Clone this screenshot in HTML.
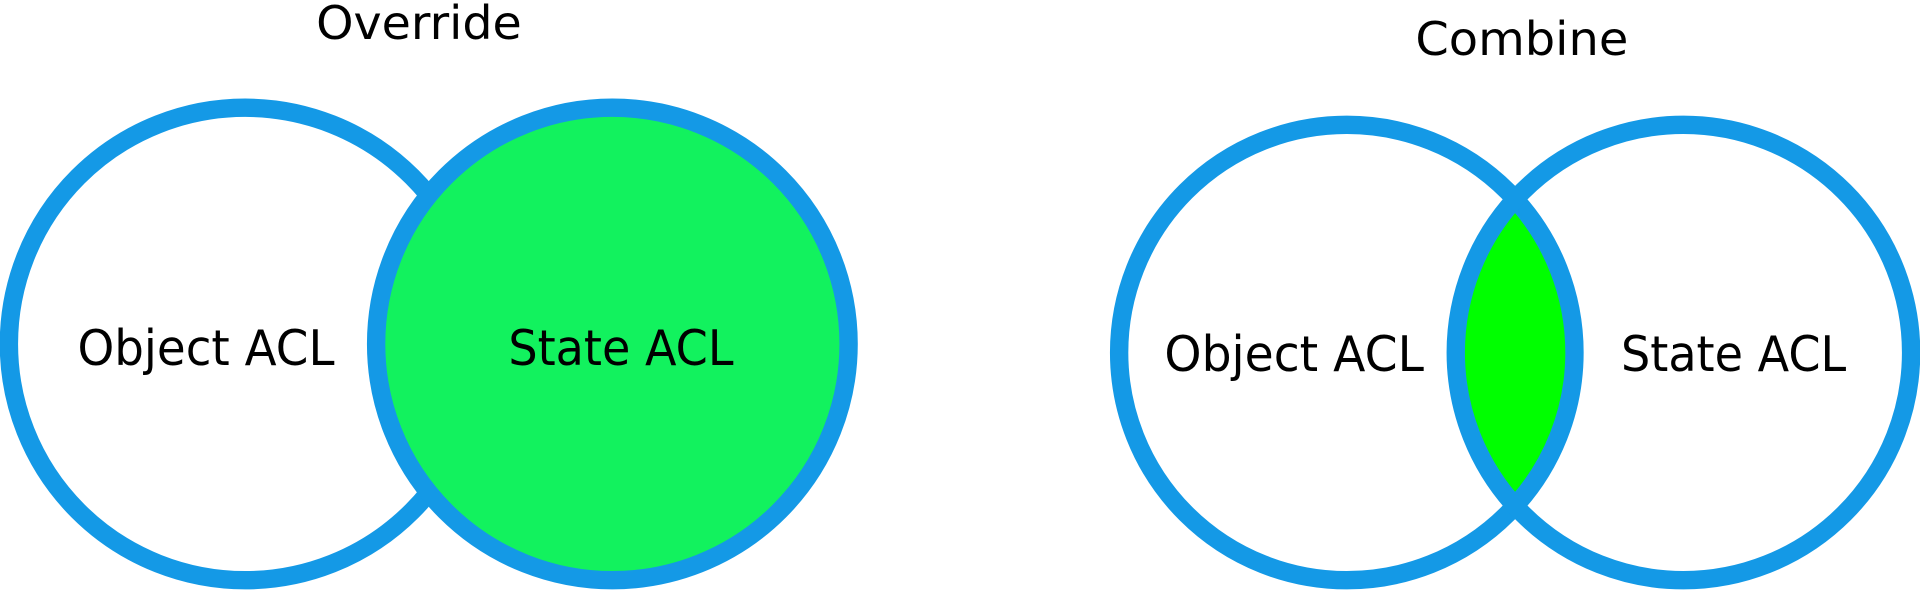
<!DOCTYPE html>
<html><head><style>html,body{margin:0;padding:0;background:#fff;}svg{display:block;}</style></head>
<body>
<svg width="1920" height="590" viewBox="0 0 1568 482" xmlns="http://www.w3.org/2000/svg" font-family="'DejaVu Sans','Liberation Sans',sans-serif">
<defs>
<clipPath id="cl"><circle cx="1100" cy="288" r="186"/></clipPath>
</defs>
<text x="342" y="32" font-size="38" text-anchor="middle" fill="#000" textLength="168" lengthAdjust="spacingAndGlyphs">Override</text>
<text x="1243" y="45" font-size="38" text-anchor="middle" fill="#000" textLength="174" lengthAdjust="spacingAndGlyphs">Combine</text>

<circle cx="200" cy="281" r="193" fill="#fff" stroke="#1499e6" stroke-width="15"/>
<circle cx="500" cy="281" r="193" fill="#12f25e" stroke="#1499e6" stroke-width="15"/>
<text x="168" y="298" font-size="40" text-anchor="middle" fill="#000" textLength="210" lengthAdjust="spacingAndGlyphs">Object ACL</text>
<text x="507" y="298" font-size="40" text-anchor="middle" fill="#000" textLength="184" lengthAdjust="spacingAndGlyphs">State ACL</text>

<circle cx="1100" cy="288" r="186" fill="#fff"/>
<circle cx="1375" cy="288" r="186" fill="#fff"/>
<circle cx="1375" cy="288" r="186" fill="#00ff00" clip-path="url(#cl)"/>
<circle cx="1100" cy="288" r="186" fill="none" stroke="#1499e6" stroke-width="15"/>
<circle cx="1375" cy="288" r="186" fill="none" stroke="#1499e6" stroke-width="15"/>
<text x="1057" y="303" font-size="40" text-anchor="middle" fill="#000" textLength="212" lengthAdjust="spacingAndGlyphs">Object ACL</text>
<text x="1416" y="303" font-size="40" text-anchor="middle" fill="#000" textLength="184" lengthAdjust="spacingAndGlyphs">State ACL</text>
</svg>
</body></html>
